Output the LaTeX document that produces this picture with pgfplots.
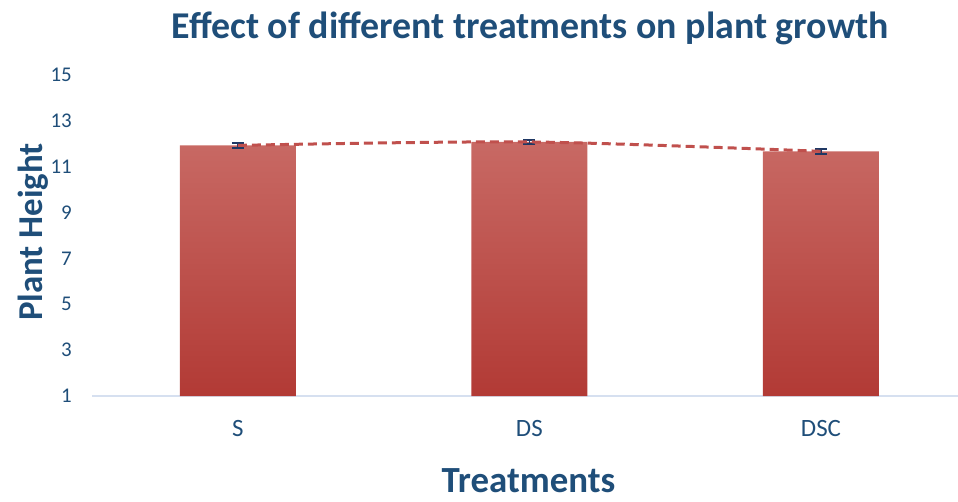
\documentclass[border=0pt]{standalone}
\usepackage{pgfplots}
\pgfplotsset{compat=1.18}
\usepackage{fontspec}
\setmainfont{Carlito}
\definecolor{txtblue}{HTML}{1F4E79}
\definecolor{barTop}{HTML}{C86964}
\definecolor{barBot}{HTML}{B23A35}
\definecolor{trend}{HTML}{C0504D}
\definecolor{errc}{HTML}{1F3864}
\definecolor{axline}{HTML}{D6E0F0}
\begin{document}
\begin{tikzpicture}
\useasboundingbox (0,0) rectangle (958bp,502bp);
\begin{axis}[
  at={(92bp,106bp)}, anchor=south west,
  scale only axis, width=866bp, height=321bp,
  xmin=-0.5, xmax=2.47, ymin=1, ymax=15,
  ytick={1,3,5,7,9,11,13,15},
  xtick={0,1,2}, xticklabels={S,DS,DSC},
  axis x line*=bottom, axis y line*=left,
  x axis line style={draw=axline, line width=1.5bp},
  y axis line style={draw=none},
  major tick length=0pt,
  /pgf/number format/assume math mode=true,
  yticklabel style={font=\fontsize{21}{24}\selectfont, text=txtblue, inner sep=0pt, anchor=east, xshift=-20bp},
  xticklabel style={font=\fontsize{25}{28}\selectfont, text=txtblue, inner sep=0pt, anchor=north, yshift=-24bp},
  title={Effect of different treatments on plant growth},
  title style={font=\bfseries\fontsize{38}{41}\selectfont, text=txtblue, at={(rel axis cs:0.506,1.128)}, anchor=center, inner sep=0pt},
  xlabel={Treatments},
  xlabel style={font=\bfseries\fontsize{37}{40}\selectfont, text=txtblue, at={(rel axis cs:0.504,-0.265)}, anchor=center, inner sep=0pt},
  ylabel={Plant Height},
  ylabel style={font=\bfseries\fontsize{35}{38}\selectfont, text=txtblue, at={(rel axis cs:-0.068,0.511)}, anchor=center, inner sep=0pt, rotate=0},
  clip=false,
]
\addplot[ybar, bar width=116bp, draw=none, top color=barTop, bottom color=barBot]
  coordinates {(0,11.93) (1,12.08) (2,11.67)};
\addplot[draw=none, mark=none, forget plot,
  error bars/.cd, y dir=both, y explicit,
  error bar style={draw=errc, line width=1.5bp},
  error mark options={draw=errc, line width=2bp, rotate=90, mark size=6bp}]
  coordinates {(0,11.93) +- (0,0.1) (1,12.08) +- (0,0.1) (2,11.67) +- (0,0.1)};
\addplot[trend, line width=3bp, dash pattern=on 9bp off 5bp, smooth, mark=none]
  coordinates {(0,11.93) (1,12.08) (2,11.67)};
\end{axis}
\end{tikzpicture}
\end{document}
